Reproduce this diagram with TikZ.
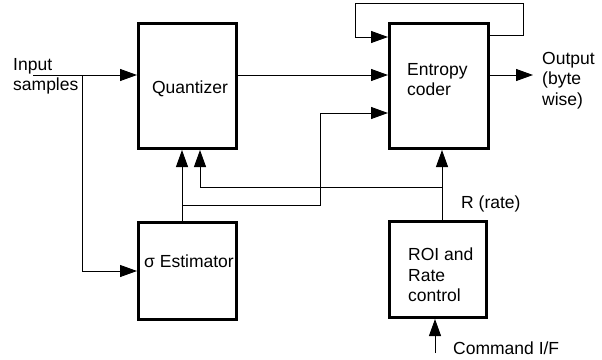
\documentclass[tikz,border=0pt]{standalone}
\usepackage{fontspec}
\setmainfont{Liberation Sans}
\usetikzlibrary{arrows.meta}
\begin{document}
\begin{tikzpicture}[x=1pt,y=-1pt,
  box/.style={draw, line width=3pt, inner sep=0pt},
  conn/.style={line width=1pt},
  arr/.style={conn, -{Triangle[length=17pt,width=12pt]}},
  txt/.style={inner sep=0pt, font=\fontsize{17.5}{20.5}\selectfont, align=left}]
\useasboundingbox[fill=white] (0,0) rectangle (602,359);
% boxes
\node[box, minimum width=98pt, minimum height=125pt] (Q) at (187.5,86) {};
\node[box, minimum width=99pt, minimum height=125pt] (E) at (439,86) {};
\node[box, minimum width=98pt, minimum height=97pt] (S) at (187.5,271) {};
\node[box, minimum width=97pt, minimum height=96pt] (R) at (438,269.5) {};
% texts
\node[txt, anchor=base] (tQ) at (190,93) {Quantizer};
\node[txt, anchor=north west] (tE) at (407,63) {Entropy\\coder};
\node[txt, anchor=base west] (tS) at (144,267) {σ Estimator};
\node[txt, anchor=north west] (tR) at (408,248) {ROI and\\Rate\\control};
\node[txt, anchor=north west] (tIn) at (13,58) {Input\\samples};
\node[txt, anchor=north west] (tOut) at (542,52) {Output\\(byte\\wise)};
\node[txt, anchor=base west] (tRate) at (461,208) {R (rate)};
\node[txt, anchor=base west] (tCmd) at (453,354) {Command I/F};
% coordinates
\coordinate (in) at (33,75);
\coordinate (br) at (82,75);
\coordinate (outtip) at (533,75);
\coordinate (fb1) at (523,35);
\coordinate (fb2) at (523,3);
\coordinate (fb3) at (355,3);
\coordinate (fb4) at (355,37);
\coordinate (xa) at (182,205);
\coordinate (xb) at (320,113);
\coordinate (ra) at (442,187);
\coordinate (rb) at (200,187);
\coordinate (cmd) at (435,353);
% connectors
\draw[arr] (in) -- (in -| Q.west);
\draw[arr] (br) |- (S.west);
\draw[arr] (Q.east |- in) -- (E.west |- in);
\draw[arr] (E.east |- in) -- (outtip);
\draw[arr] (E.east |- fb1) -- (fb1) -- (fb2) -- (fb3) -- (fb4) -- (E.west |- fb4);
\draw[arr] (S.north -| xa) -- (Q.south -| xa);
\draw[arr] (xa) -| (xb) -- (E.west |- xb);
\draw[arr] (R.north -| ra) -- (E.south -| ra);
\draw[arr] (ra) -- (rb) -- (Q.south -| rb);
\draw[arr] (cmd) -- (R.south -| cmd);
\end{tikzpicture}
\end{document}
